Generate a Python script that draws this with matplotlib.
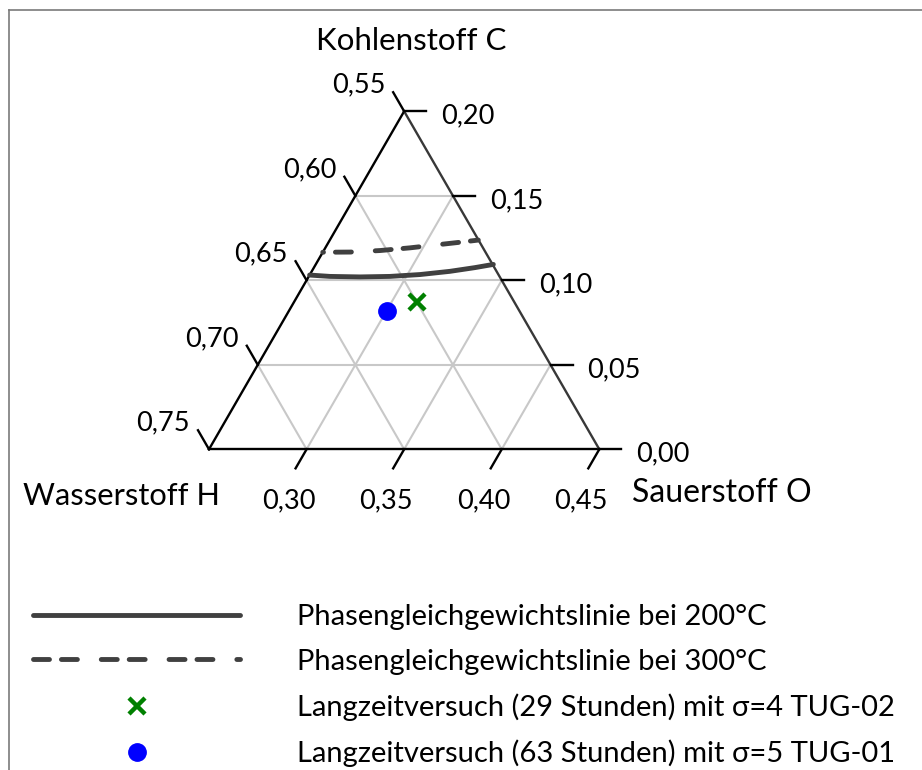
import numpy as np
import matplotlib.pyplot as plt
from matplotlib.lines import Line2D

plt.rcParams['font.family'] = ['Lato', 'DejaVu Sans']
plt.rcParams['lines.scale_dashes'] = False

# Ausschnitt des Dreiecks: C 0..0,20 / H 0,55..0,75 / O 0,25..0,45
C_MIN, H_MIN, O_MIN = 0.0, 0.55, 0.25
SPAN = 0.20

c_ticks = [0.00, 0.05, 0.10, 0.15, 0.20]
h_ticks = [0.55, 0.60, 0.65, 0.70, 0.75]
o_ticks = [0.30, 0.35, 0.40, 0.45]

# Phasengleichgewichtslinie bei 200°C (Anteile C und O, H = 1 - C - O)
line200_c = [0.1031, 0.1023, 0.1020, 0.1023, 0.1034, 0.1053, 0.1075, 0.1094]
line200_o = [0.2500, 0.2608, 0.2764, 0.2916, 0.3064, 0.3208, 0.3325, 0.3410]

# Phasengleichgewichtslinie bei 300°C
line300_c = [0.1166, 0.1167, 0.1176, 0.1192, 0.1212, 0.1225, 0.1238]
line300_o = [0.2500, 0.2639, 0.2788, 0.2934, 0.3078, 0.3173, 0.3261]

# Langzeitversuche
tug02_c, tug02_o = [0.087], [0.313]
tug01_c, tug01_o = [0.082], [0.300]

labels = [
    'Phasengleichgewichtslinie bei 200°C',
    'Phasengleichgewichtslinie bei 300°C',
    'Langzeitversuch (29 Stunden) mit σ=4 TUG-02',
    'Langzeitversuch (63 Stunden) mit σ=5 TUG-01',
]

LINE_COLOR = '#404040'
GRID_COLOR = '#c8c8c8'
LW_CURVE = 3.5
DASH_SEQ = (11.5, 8.6, 11.5, 17.2)

# Umrechnung Pixel -> Dreieckseinheiten (Seitenlaenge = 1)
PX = 1 / 390.3
TICK = 22 * PX


def to_xy(c, o):
    # Dreieckskoordinaten (C, O) in kartesische Koordinaten
    c = (np.asarray(c, dtype=float) - C_MIN) / SPAN
    o = (np.asarray(o, dtype=float) - O_MIN) / SPAN
    return o + c / 2, c * np.sqrt(3) / 2


def fmt(v):
    return f'{v:.2f}'.replace('.', ',')


fig = plt.figure(figsize=(9.22, 7.70), dpi=100)
ax = fig.add_axes([0, 0, 1, 1])
ax.set_xlim(-209 * PX, (922 - 209) * PX)
ax.set_ylim((449.3 - 770) * PX, 449.3 * PX)
ax.axis('off')

# Hilfslinien
for c in c_ticks[1:-1]:
    x, y = to_xy([c, c], [O_MIN, 1 - H_MIN - c])
    ax.plot(x, y, color=GRID_COLOR, lw=1.5, zorder=1)
for o in o_ticks[:-1]:
    x, y = to_xy([0, 1 - H_MIN - o], [o, o])
    ax.plot(x, y, color=GRID_COLOR, lw=1.5, zorder=1)
for h in h_ticks[1:-1]:
    x, y = to_xy([0, 1 - h - O_MIN], [1 - h, O_MIN])
    ax.plot(x, y, color=GRID_COLOR, lw=1.5, zorder=1)

# Dreiecksseiten
x, y = to_xy([0, SPAN], [O_MIN, O_MIN])
ax.plot(x, y, color='black', lw=1.7, zorder=2)
x, y = to_xy([0, 0], [O_MIN, O_MIN + SPAN])
ax.plot(x, y, color='black', lw=1.7, zorder=2)
x, y = to_xy([0, SPAN], [O_MIN + SPAN, O_MIN])
ax.plot(x, y, color='#383838', lw=1.7, zorder=2)

# Achse Kohlenstoff (rechte Seite)
for c in c_ticks:
    x, y = to_xy(c, 1 - H_MIN - c)
    ax.plot([x, x + TICK], [y, y], color='black', lw=1.7)
    ax.text(x + 37 * PX, y - 5 * PX, fmt(c), ha='left', va='center', fontsize=19.5)

# Achse Wasserstoff (linke Seite)
for h in h_ticks:
    x, y = to_xy(1 - h - O_MIN, O_MIN)
    ax.plot([x, x - TICK / 2], [y, y + TICK * np.sqrt(3) / 2], color='black', lw=1.7)
    ax.text(x - 19 * PX, y + 26 * PX, fmt(h), ha='right', va='center', fontsize=19.5)

# Achse Sauerstoff (unten)
for o in o_ticks:
    x, y = to_xy(0, o)
    ax.plot([x, x - TICK / 2], [y, y - TICK * np.sqrt(3) / 2], color='black', lw=1.7)
    ax.text(x - 18 * PX, y - 52 * PX, fmt(o), ha='center', va='center', fontsize=19.5)

# Achsentitel
x, y = to_xy(SPAN, O_MIN)
ax.text(x + 7 * PX, y + 70 * PX, 'Kohlenstoff C', ha='center', va='center', fontsize=22.5)
x, y = to_xy(0, O_MIN)
ax.text(x + 11 * PX, y - 47 * PX, 'Wasserstoff H', ha='right', va='center', fontsize=22.2)
x, y = to_xy(0, O_MIN + SPAN)
ax.text(x + 33 * PX, y - 44 * PX, 'Sauerstoff O', ha='left', va='center', fontsize=23)

# Gleichgewichtslinien
x, y = to_xy(line200_c, line200_o)
h200, = ax.plot(x, y, color=LINE_COLOR, lw=LW_CURVE, solid_capstyle='round',
                solid_joinstyle='round', zorder=3)
x, y = to_xy(line300_c, line300_o)
ax.plot(x, y, color=LINE_COLOR, lw=LW_CURVE, linestyle=(11.0, DASH_SEQ),
        dash_capstyle='round', dash_joinstyle='round', zorder=3)
h300 = Line2D([], [], color=LINE_COLOR, lw=LW_CURVE, linestyle=(0, DASH_SEQ),
              dash_capstyle='round')

# Versuchspunkte
x, y = to_xy(tug02_c, tug02_o)
h02, = ax.plot(x, y, linestyle='none', marker='x', color='#008000',
               markersize=11, markeredgewidth=3.2, zorder=4)
x, y = to_xy(tug01_c, tug01_o)
h01, = ax.plot(x, y, linestyle='none', marker='o', color='#0000ff',
               markersize=12.5, zorder=4)

fig.legend([h200, h300, h02, h01], labels, loc='upper left',
           bbox_to_anchor=(33 / 922, 1 - 604 / 770), frameon=False,
           borderpad=0, borderaxespad=0, handlelength=7.1, handletextpad=1.94,
           labelspacing=0.64, fontsize=21, numpoints=1)

# Rahmen links und oben
fig.add_artist(Line2D([8.5 / 922, 8.5 / 922], [0, 1 - 9.5 / 770],
                      transform=fig.transFigure, color='#7a7a7a', lw=1.2))
fig.add_artist(Line2D([8.5 / 922, 1], [1 - 9.5 / 770, 1 - 9.5 / 770],
                      transform=fig.transFigure, color='#7a7a7a', lw=1.2))

fig.savefig('out.png', dpi=100)
